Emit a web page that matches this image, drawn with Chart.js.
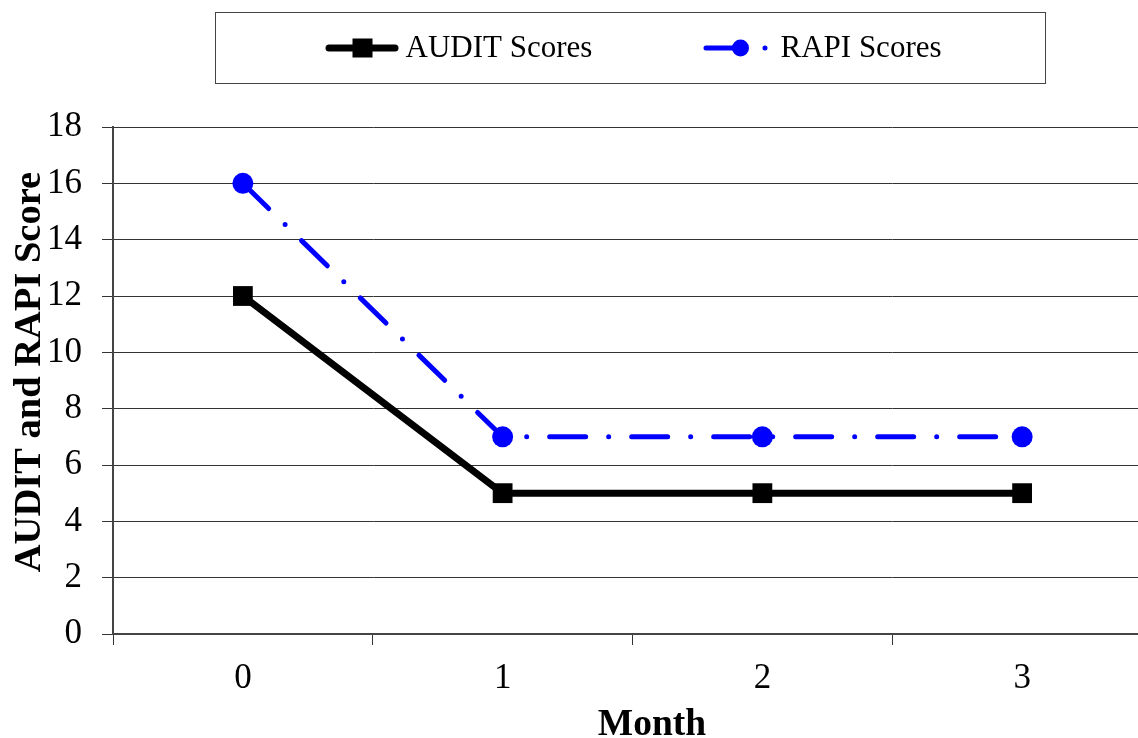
<!DOCTYPE html>
<html>
<head>
<meta charset="utf-8">
<style>
  html, body { margin: 0; padding: 0; background: #fff; overflow: hidden; }
  #wrap { width: 1166px; height: 738px; }
</style>
<script src="https://cdn.jsdelivr.net/npm/chart.js@4/dist/chart.umd.min.js"></script>
</head>
<body>
<div id="wrap"><canvas id="chart" width="1166" height="738"></canvas></div>
<script>
// Monthly mean scores
const months = ['0', '1', '2', '3'];
const auditScores = [12, 5, 5, 5];
const rapiScores = [16, 7, 7, 7];
const seriesNames = ['AUDIT Scores', 'RAPI Scores'];
const yTitle = 'AUDIT and RAPI Score';
const xTitle = 'Month';

const SERIF = "'Liberation Serif', 'Times New Roman', serif";
const RAPI_DASH = [36, 23, 0, 23];

// Boxed legend drawn above the plot, each entry a short line sample with its marker
const boxedLegend = {
  id: 'boxedLegend',
  afterDraw(chart) {
    const ctx = chart.ctx;
    const boxL = 215.5;
    const boxT = 12.5;
    const boxW = 830, boxH = 71;
    ctx.save();
    ctx.fillStyle = '#fff';
    ctx.fillRect(boxL, boxT, boxW, boxH);
    ctx.strokeStyle = '#444';
    ctx.lineWidth = 1;
    ctx.strokeRect(boxL, boxT, boxW, boxH);

    const midY = 48;
    const ds = chart.data.datasets;

    // AUDIT entry
    let x0 = boxL + 110;
    ctx.strokeStyle = ds[0].borderColor;
    ctx.lineWidth = 7;
    ctx.lineCap = 'round';
    ctx.beginPath();
    ctx.moveTo(x0 + 3.5, midY);
    ctx.lineTo(x0 + 69.5, midY);
    ctx.stroke();
    ctx.fillStyle = ds[0].pointBackgroundColor;
    ctx.fillRect(x0 + 37 - 10, midY - 9.5, 20, 19);
    ctx.fillStyle = '#000';
    ctx.font = '31px ' + SERIF;
    ctx.textBaseline = 'middle';
    ctx.textAlign = 'left';
    ctx.fillText(ds[0].label, x0 + 80, midY + 1);

    // RAPI entry
    x0 = boxL + 488;
    ctx.strokeStyle = ds[1].borderColor;
    ctx.lineWidth = 5;
    ctx.lineCap = 'round';
    ctx.setLineDash(RAPI_DASH);
    ctx.beginPath();
    ctx.moveTo(x0 + 2.5, midY);
    ctx.lineTo(x0 + 75, midY);
    ctx.stroke();
    ctx.setLineDash([]);
    ctx.fillStyle = ds[1].pointBackgroundColor;
    ctx.beginPath();
    ctx.arc(x0 + 37, midY, 8.5, 0, Math.PI * 2);
    ctx.fill();
    ctx.fillStyle = '#000';
    ctx.fillText(ds[1].label, x0 + 77, midY + 1);
    ctx.restore();
  }
};

// Axis titles: bold serif, the value title rotated along the left edge
const axisTitles = {
  id: 'axisTitles',
  afterDraw(chart) {
    const ctx = chart.ctx;
    ctx.save();
    ctx.fillStyle = '#000';
    ctx.textAlign = 'center';
    ctx.textBaseline = 'alphabetic';
    ctx.font = 'bold 37.5px ' + SERIF;
    ctx.fillText(xTitle, 652, 735);
    ctx.font = 'bold 38.5px ' + SERIF;
    ctx.translate(40, 372);
    ctx.rotate(-Math.PI / 2);
    ctx.fillText(yTitle, 0, 0);
    ctx.restore();
  }
};

new Chart(document.getElementById('chart'), {
  type: 'line',
  data: {
    labels: months,
    datasets: [
      {
        label: seriesNames[0],
        data: auditScores,
        borderColor: '#000000',
        backgroundColor: '#000000',
        borderWidth: 7,
        pointStyle: 'rect',
        pointRadius: 14,
        pointBorderWidth: 0,
        pointBackgroundColor: '#000000',
        tension: 0,
        order: 2
      },
      {
        label: seriesNames[1],
        data: rapiScores,
        borderColor: '#0000ff',
        backgroundColor: '#0000ff',
        borderWidth: 5,
        borderDash: RAPI_DASH,
        borderCapStyle: 'round',
        pointStyle: 'circle',
        pointRadius: 10.5,
        pointBorderWidth: 0,
        pointBackgroundColor: '#0000ff',
        tension: 0,
        order: 1
      }
    ]
  },
  options: {
    responsive: false,
    animation: false,
    devicePixelRatio: 1,
    layout: { padding: { top: 127, left: 0, right: 1, bottom: 0 } },
    plugins: {
      legend: { display: false },
      tooltip: { enabled: false }
    },
    scales: {
      x: {
        type: 'category',
        offset: true,
        afterFit(scale) { scale.height = 104; },
        grid: {
          offset: true,
          drawOnChartArea: false,
          drawTicks: true,
          tickLength: 11,
          color: '#333',
          lineWidth: 1
        },
        border: { display: true, color: '#444', width: 2 },
        ticks: {
          color: '#000',
          padding: 13,
          font: { family: SERIF, size: 35 }
        }
      },
      y: {
        min: 0,
        max: 18,
        afterFit(scale) { scale.width = 113; },
        ticks: {
          stepSize: 2,
          color: '#000',
          padding: 20,
          font: { family: SERIF, size: 35 }
        },
        grid: {
          color: '#333',
          lineWidth: 1,
          tickLength: 11,
          drawTicks: true
        },
        border: { display: true, color: '#444', width: 2 }
      }
    }
  },
  plugins: [boxedLegend, axisTitles]
});
</script>
</body>
</html>
